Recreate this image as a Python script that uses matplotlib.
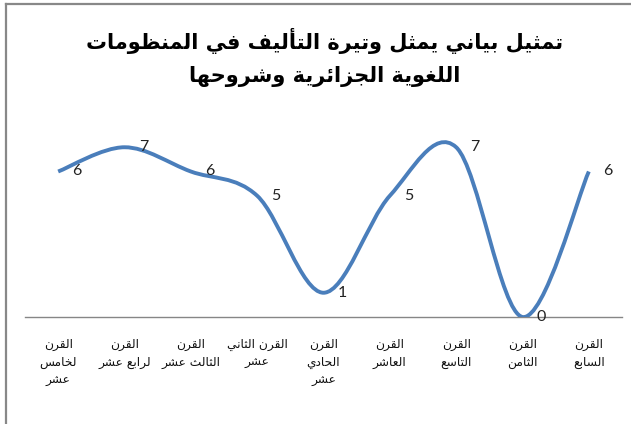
import matplotlib
matplotlib.use("Agg")
import matplotlib.pyplot as plt
from matplotlib.path import Path
from matplotlib.patches import PathPatch
from matplotlib.lines import Line2D
import numpy as np

# ---------------- data (logical order: 7th century -> 15th century) -------------
categories = [
    ["القرن", "السابع"],
    ["القرن", "الثامن"],
    ["القرن", "التاسع"],
    ["القرن", "العاشر"],
    ["القرن", "الحادي", "عشر"],
    ["القرن الثاني", "عشر"],
    ["القرن", "الثالث عشر"],
    ["القرن", "لرابع عشر"],
    ["القرن", "لخامس", "عشر"],
]
values = [6, 0, 7, 5, 1, 5, 6, 7, 6]
title_lines = ["تمثيل بياني يمثل وتيرة التأليف في المنظومات",
               "اللغوية الجزائرية وشروحها"]

# ---------------- minimal Arabic shaping (presentation forms + visual order) ----
_pairs = [('ء', 0xFE80, 1), ('آ', 0xFE81, 2), ('أ', 0xFE83, 2), ('ؤ', 0xFE85, 2),
          ('إ', 0xFE87, 2), ('ئ', 0xFE89, 4), ('ا', 0xFE8D, 2), ('ب', 0xFE8F, 4),
          ('ة', 0xFE93, 2), ('ت', 0xFE95, 4), ('ث', 0xFE99, 4), ('ج', 0xFE9D, 4),
          ('ح', 0xFEA1, 4), ('خ', 0xFEA5, 4), ('د', 0xFEA9, 2), ('ذ', 0xFEAB, 2),
          ('ر', 0xFEAD, 2), ('ز', 0xFEAF, 2), ('س', 0xFEB1, 4), ('ش', 0xFEB5, 4),
          ('ص', 0xFEB9, 4), ('ض', 0xFEBD, 4), ('ط', 0xFEC1, 4), ('ظ', 0xFEC5, 4),
          ('ع', 0xFEC9, 4), ('غ', 0xFECD, 4), ('ف', 0xFED1, 4), ('ق', 0xFED5, 4),
          ('ك', 0xFED9, 4), ('ل', 0xFEDD, 4), ('م', 0xFEE1, 4), ('ن', 0xFEE5, 4),
          ('ه', 0xFEE9, 4), ('و', 0xFEED, 2), ('ى', 0xFEEF, 2), ('ي', 0xFEF1, 4)]
_FORMS = {c: tuple(chr(b + i) for i in range(n)) for c, b, n in _pairs}
_LAMALEF = {'آ': (0xFEF5, 0xFEF6), 'أ': (0xFEF7, 0xFEF8),
            'إ': (0xFEF9, 0xFEFA), 'ا': (0xFEFB, 0xFEFC)}


def shape(text):
    toks = []
    i = 0
    while i < len(text):
        c = text[i]
        if c == 'ل' and i + 1 < len(text) and text[i + 1] in _LAMALEF:
            toks.append(('LA', text[i + 1]))
            i += 2
        else:
            toks.append((c, None))
            i += 1

    def nf(t):
        if t[0] == 'LA':
            return 2
        f = _FORMS.get(t[0])
        return len(f) if f else 0

    out = []
    for k, t in enumerate(toks):
        prev = toks[k - 1] if k > 0 else None
        nxt = toks[k + 1] if k + 1 < len(toks) else None
        jp = prev is not None and nf(prev) == 4 and nf(t) >= 2
        jn = nxt is not None and nf(t) == 4 and nf(nxt) >= 2
        if t[0] == 'LA':
            iso, fin = _LAMALEF[t[1]]
            out.append(chr(fin if jp else iso))
            continue
        f = _FORMS.get(t[0])
        if not f:
            out.append(t[0])
        elif len(f) == 1:
            out.append(f[0])
        elif len(f) == 2:
            out.append(f[1] if jp else f[0])
        else:
            if jp and jn:
                out.append(f[3])
            elif jp:
                out.append(f[1])
            elif jn:
                out.append(f[2])
            else:
                out.append(f[0])
    return ''.join(reversed(out))


# ---------------- figure ----------------
W, H = 631, 424
fig = plt.figure(figsize=(W / 100, H / 100), dpi=100)
fig.patch.set_facecolor('white')

ax = fig.add_axes([25 / W, 107 / H, 597 / W, 194 / H])
n = len(values)
x = np.arange(n, dtype=float)
y = np.array(values, dtype=float)

# smoothed line (Catmull-Rom style cubic Bezier, like Excel's smoothed line)
P = np.column_stack([x, y])
verts = [tuple(P[0])]
codes = [Path.MOVETO]
for i in range(n - 1):
    p0 = P[i - 1] if i > 0 else P[i]
    p1 = P[i]
    p2 = P[i + 1]
    p3 = P[i + 2] if i + 2 < n else P[i + 1]
    c1 = p1 + (p2 - p0) / 6.0
    c2 = p2 - (p3 - p1) / 6.0
    verts += [tuple(c1), tuple(c2), tuple(p2)]
    codes += [Path.CURVE4] * 3
ax.add_patch(PathPatch(Path(verts, codes), facecolor='none',
                       edgecolor='#4A7EBB', lw=2.8, capstyle='butt',
                       joinstyle='round', zorder=3))

for xi, v in zip(x, values):
    ax.annotate(str(v), (xi, v), xytext=(13.5, 0), textcoords='offset points',
                ha='center', va='center', fontsize=11.5, color='#222222',
                family='Lato', zorder=4)

ax.set_xlim(-0.5, n - 0.5)
ax.invert_xaxis()
ax.set_ylim(0, 8)
ax.set_yticks([])
for s in ['top', 'right', 'left']:
    ax.spines[s].set_visible(False)
ax.spines['bottom'].set_color('#868686')
ax.spines['bottom'].set_linewidth(1.0)
ax.set_xticks(x)
ax.set_xticklabels(['\n'.join(shape(l) for l in lines) for lines in categories],
                   fontsize=8.8, color='#111111', linespacing=1.5,
                   multialignment='center', family='DejaVu Sans')
ax.tick_params(axis='x', length=0, pad=15)
ax.set_facecolor('none')

fig.text(325 / W, 1 - 57 / H, '\n'.join(shape(l) for l in title_lines),
         ha='center', va='center', fontsize=15, fontweight='bold',
         family='DejaVu Sans', linespacing=1.75, color='black')

# chart-area border (only top and left edges visible in the crop)
fig.add_artist(Line2D([6 / W, 6 / W], [0, 1 - 4 / H], transform=fig.transFigure,
                      color='#888888', lw=1.6))
fig.add_artist(Line2D([6 / W, 1], [1 - 4 / H, 1 - 4 / H], transform=fig.transFigure,
                      color='#888888', lw=1.6))

fig.savefig('out.png', dpi=100, facecolor='white')
